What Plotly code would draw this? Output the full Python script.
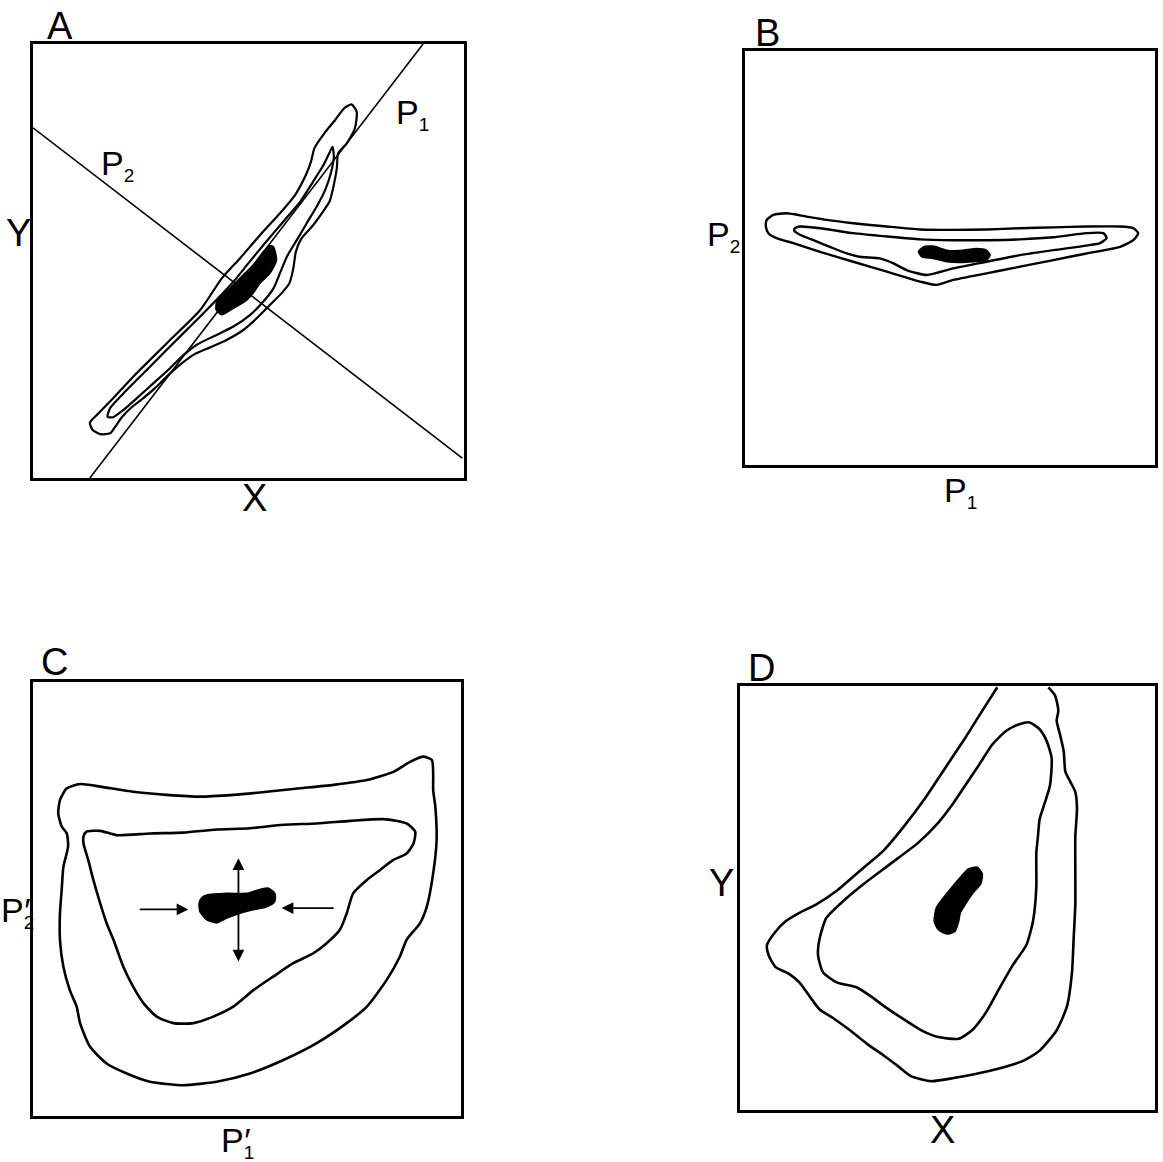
import plotly.graph_objects as go

# ---------------- Panel A: X–Y plane with principal axes P1, P2 ----------------
a_outer_x = [73.9, 75.1, 74.7, 72.8, 70.8, 70.5, 69.7, 68.8, 67.0, 64.7, 62.3, 61.0, 60.4, 59.5,
             57.7, 55.0, 51.9, 48.8, 44.9, 41.1, 37.6, 34.5, 31.4, 28.3, 25.6, 22.9, 20.6, 19.0,
             17.9, 15.6, 13.8, 13.2, 15.2, 18.6, 23.3, 31.0, 38.8, 43.8, 48.0, 52.7, 57.3, 60.8,
             63.3, 64.5, 65.3, 67.5, 70.1, 72.2, 73.9]
a_outer_y = [86.1, 84.4, 80.6, 77.1, 74.8, 71.4, 67.1, 63.7, 61.0, 57.9, 55.2, 52.2, 48.3, 44.9,
             42.6, 39.9, 36.8, 34.1, 31.8, 30.1, 28.6, 26.4, 23.7, 20.7, 18.4, 16.3, 14.0, 11.7,
             10.3, 10.1, 11.1, 12.8, 14.9, 18.4, 23.4, 31.0, 38.7, 46.0, 50.6, 56.0, 61.0, 65.2,
             69.8, 72.9, 76.0, 79.3, 82.5, 85.2, 86.1]
a_inner_x = [69.5, 69.8, 69.1, 67.8, 65.8, 63.5, 61.2, 58.9, 57.3, 55.8, 53.4, 50.4, 46.5, 41.8,
             38.0, 34.9, 31.8, 27.9, 24.1, 21.0, 18.6, 17.3, 17.9, 21.0, 26.4, 33.3, 40.3, 46.5,
             50.0, 53.8, 58.1, 62.0, 65.0, 67.4, 68.9, 69.5]
a_inner_y = [76.3, 74.0, 70.2, 66.4, 62.5, 58.7, 54.8, 51.0, 47.2, 43.7, 40.6, 37.6, 34.9, 32.6,
             30.7, 28.3, 25.3, 21.8, 18.4, 15.7, 14.0, 14.1, 16.1, 19.5, 24.9, 31.8, 38.7, 45.2,
             49.5, 54.1, 59.1, 63.7, 68.3, 72.1, 75.2, 76.3]
a_core_x = [55.8, 56.5, 55.0, 52.7, 51.1, 49.6, 46.5, 43.8, 42.5, 42.6, 44.9, 46.9, 49.2, 51.5,
            53.4, 55.0, 55.8]
a_core_y = [53.3, 50.2, 47.2, 44.9, 42.6, 41.0, 39.1, 37.6, 38.7, 40.6, 42.9, 44.9, 47.2, 49.5,
            52.1, 53.5, 53.3]
p1_axis_x = [13.2, 90.5]
p1_axis_y = [0.0, 100.0]
p2_axis_x = [0.0, 99.6]
p2_axis_y = [80.7, 4.6]

# ---------------- Panel B: the same cloud in P1–P2 coordinates ----------------
b_outer_x = [5.3, 6.9, 10.2, 15.0, 19.9, 26.4, 34.6, 42.7, 50.8, 58.9, 67.1, 75.2, 83.3, 91.5,
             94.7, 95.9, 94.7, 91.5, 83.3, 75.2, 67.1, 58.9, 50.8, 46.7, 42.7, 38.6, 34.6, 26.4,
             18.3, 11.8, 7.7, 5.7, 5.1, 5.3]
b_outer_y = [59.2, 60.4, 60.8, 60.0, 59.2, 58.4, 57.6, 56.9, 56.8, 56.9, 57.2, 57.4, 57.6, 57.6,
             57.2, 56.0, 54.3, 52.7, 51.1, 49.5, 47.9, 46.3, 44.7, 43.5, 44.3, 45.5, 46.7, 49.1,
             51.5, 53.6, 54.8, 56.0, 57.6, 59.2]
b_inner_x = [12.2, 13.4, 18.3, 26.4, 34.6, 42.7, 50.8, 58.9, 67.1, 75.2, 83.3, 87.4, 88.2, 86.6,
             83.3, 75.2, 67.1, 58.9, 50.8, 44.3, 39.4, 36.2, 32.9, 28.0, 24.8, 20.7, 16.7, 13.4,
             12.0, 12.2]
b_inner_y = [57.2, 57.6, 57.2, 56.0, 55.2, 54.5, 54.3, 54.3, 54.5, 55.0, 56.0, 56.0, 54.8, 53.6,
             53.0, 51.9, 50.7, 49.1, 47.5, 45.9, 47.1, 48.7, 49.9, 50.3, 51.1, 52.7, 54.3, 55.6,
             56.6, 57.2]
b_core_x = [43.5, 45.9, 49.2, 52.4, 56.5, 58.9, 59.8, 58.9, 55.7, 52.4, 49.2, 45.9, 43.1, 42.3, 43.5]
b_core_y = [52.7, 52.9, 51.9, 51.8, 52.3, 51.9, 50.7, 49.5, 49.1, 48.9, 49.1, 49.9, 50.3, 51.5, 52.7]

# ---------------- Panel C: rescaled P1'–P2' plane ----------------
c_outer_x = [7.9, 11.0, 15.7, 23.4, 31.2, 39.0, 46.8, 54.6, 62.4, 70.2, 78.0, 84.2, 88.1, 91.2,
             93.2, 93.5, 93.5, 94.0, 94.3, 93.5, 92.0, 90.4, 87.3, 85.7, 82.6, 78.0, 73.3, 66.3,
             58.5, 50.7, 42.9, 35.1, 27.3, 21.9, 17.2, 13.3, 11.0, 10.2, 8.6, 7.1, 6.3, 6.3, 6.7,
             7.1, 8.2, 7.9, 6.7, 5.9, 6.3, 7.9]
c_outer_y = [75.5, 76.5, 75.9, 74.7, 74.0, 73.6, 74.0, 74.7, 75.5, 76.3, 77.4, 79.3, 81.6, 82.8,
             82.0, 78.9, 75.1, 71.3, 63.6, 55.9, 48.2, 44.4, 40.6, 36.7, 31.3, 25.2, 21.4, 16.8,
             12.9, 9.8, 7.9, 7.1, 7.9, 9.8, 12.1, 16.0, 21.4, 25.2, 29.0, 34.4, 40.6, 46.7, 52.1,
             57.4, 62.1, 65.1, 66.7, 69.7, 72.8, 75.5]
c_inner_x = [11.8, 12.5, 15.7, 19.6, 27.3, 35.1, 42.9, 50.7, 58.5, 66.3, 74.1, 81.9, 87.3, 89.3,
             88.9, 87.3, 84.2, 81.1, 78.0, 74.8, 73.3, 71.7, 68.6, 65.5, 60.8, 56.1, 51.5, 46.8,
             42.1, 37.5, 32.8, 28.9, 25.8, 23.4, 21.1, 18.8, 17.2, 15.7, 14.1, 12.9, 11.8, 11.8]
c_inner_y = [64.4, 65.5, 65.7, 64.7, 65.1, 65.3, 66.0, 66.3, 67.1, 67.4, 68.0, 68.4, 67.4, 65.5,
             62.8, 60.5, 59.0, 56.7, 54.4, 51.3, 46.7, 42.9, 39.8, 37.5, 35.2, 32.1, 29.0, 25.2,
             22.9, 21.4, 21.4, 22.9, 26.0, 29.8, 34.4, 40.6, 44.4, 49.0, 54.4, 59.0, 62.8, 64.4]
c_core_x = [40.6, 45.3, 49.9, 53.0, 55.0, 56.5, 56.5, 54.6, 51.5, 48.4, 45.3, 42.9, 40.6, 39.0,
            38.8, 39.4, 40.6]
c_core_y = [50.9, 51.3, 51.3, 52.2, 52.5, 51.3, 49.4, 48.2, 47.5, 46.7, 45.6, 44.5, 45.2, 47.1,
            49.0, 50.3, 50.9]
# arrows: (tail x, tail y, head x, head y)
c_arrows = [
    (24.6, 47.6, 36.3, 47.6),   # squeeze from the left
    (70.6, 47.9, 58.1, 47.9),   # squeeze from the right
    (48.0, 47.5, 48.0, 59.4),   # stretch upward
    (48.0, 47.5, 48.0, 35.6),   # stretch downward
]

# ---------------- Panel D: back-transformed into X–Y ----------------
d_outer_x = [74.3, 75.9, 76.7, 76.3, 77.1, 78.0, 78.4, 79.6, 80.8, 81.2, 80.8, 80.8, 80.8, 80.4,
             80.0, 78.8, 76.3, 72.2, 68.2, 60.0, 51.8, 46.1, 41.2, 38.0, 34.7, 30.6, 26.5, 22.4,
             19.2, 16.7, 14.3, 11.8, 8.6, 6.9, 6.5, 8.6, 11.0, 14.3, 18.4, 23.3, 29.0, 34.7, 39.6,
             44.5, 49.4, 54.3, 58.4, 62.0]
d_outer_y = [99.7, 97.8, 94.2, 91.8, 88.6, 84.6, 79.8, 77.4, 75.0, 71.0, 64.6, 56.5, 48.5, 40.5,
             32.5, 24.5, 18.8, 14.0, 11.6, 9.2, 7.6, 6.8, 8.0, 10.4, 12.8, 15.6, 18.8, 21.7, 23.7,
             26.9, 30.1, 32.1, 33.7, 36.5, 38.9, 42.1, 44.5, 46.5, 48.5, 51.7, 56.5, 61.3, 67.0,
             73.4, 80.6, 87.8, 94.2, 99.7]
d_inner_x = [69.8, 67.3, 64.1, 60.8, 57.6, 54.3, 51.0, 47.8, 42.9, 36.3, 29.8, 24.9, 20.8, 19.2,
             18.8, 20.0, 23.3, 28.2, 31.4, 34.7, 39.6, 43.7, 47.8, 52.7, 55.9, 59.2, 62.4, 65.7,
             69.0, 70.6, 71.4, 71.4, 71.8, 72.2, 73.5, 74.7, 75.1, 73.9, 72.2, 69.8]
d_inner_y = [91.4, 91.0, 89.4, 86.2, 81.4, 76.6, 71.8, 67.8, 63.0, 58.1, 53.3, 49.3, 45.3, 40.5,
             36.5, 32.5, 30.1, 28.9, 26.9, 24.5, 21.3, 18.8, 17.2, 16.8, 18.8, 22.9, 28.5, 34.1,
             38.9, 44.5, 52.5, 60.5, 64.6, 68.6, 72.6, 76.6, 83.0, 87.0, 89.8, 91.4]
d_core_x = [57.1, 58.4, 58.0, 55.9, 54.3, 53.1, 52.7, 51.8, 49.8, 47.8, 46.8, 47.3, 49.0, 51.0,
            53.1, 55.1, 57.1]
d_core_y = [57.3, 55.7, 53.3, 50.9, 48.5, 46.5, 44.5, 42.1, 41.5, 42.5, 44.5, 47.7, 50.1, 52.5,
            54.9, 56.9, 57.3]

INK = "#000000"
FONT = "Liberation Sans"
W, H = 1163, 1162


def sub(t, tuck=False):
    # tuck pulls the following prime back so it sits above the subscript
    extra = "; letter-spacing:-10px" if tuck else ""
    return "<sub><span style='font-size:19px" + extra + "'>" + t + "</span></sub>"


# panel letters and axis titles
panel_letters = ["A", "B", "C", "D"]
x_titles = ["X", "P" + sub("1"), "P" + sub("1", True) + "′", "X"]
y_titles = ["Y", "P" + sub("2"), "P" + sub("2", True) + "′", "Y"]

# panel frames in page pixels: left, right, top, bottom
frames = [(33, 464, 44, 478), (745, 1155, 51, 465), (33, 461, 682, 1116), (740, 1155, 686, 1110)]

fig = go.Figure()
layout_axes = {}
for i, (l, r, t, b) in enumerate(frames, start=1):
    sfx = "" if i == 1 else str(i)
    ax_common = dict(range=[0, 100], showgrid=False, zeroline=False, showticklabels=False,
                     ticks="", showline=True, linecolor=INK, linewidth=2.8, mirror=True,
                     fixedrange=True)
    layout_axes["xaxis" + sfx] = dict(domain=[l / W, r / W], anchor="y" + sfx, **ax_common)
    layout_axes["yaxis" + sfx] = dict(domain=[1 - b / H, 1 - t / H], anchor="x" + sfx, **ax_common)


def contour(x, y, panel, width=2.4):
    sfx = "" if panel == 1 else str(panel)
    fig.add_trace(go.Scatter(x=x, y=y, mode="lines", xaxis="x" + sfx, yaxis="y" + sfx,
                             line=dict(color=INK, width=width, shape="spline", smoothing=0.6),
                             hoverinfo="skip", showlegend=False))


def core(x, y, panel):
    sfx = "" if panel == 1 else str(panel)
    fig.add_trace(go.Scatter(x=x, y=y, mode="lines", xaxis="x" + sfx, yaxis="y" + sfx,
                             fill="toself", fillcolor=INK,
                             line=dict(color=INK, width=1.5, shape="spline", smoothing=0.6),
                             hoverinfo="skip", showlegend=False))


def straight(x, y, panel, width=1.6):
    sfx = "" if panel == 1 else str(panel)
    fig.add_trace(go.Scatter(x=x, y=y, mode="lines", xaxis="x" + sfx, yaxis="y" + sfx,
                             line=dict(color=INK, width=width), hoverinfo="skip",
                             showlegend=False, cliponaxis=True))


# Panel A
straight(p1_axis_x, p1_axis_y, 1)
straight(p2_axis_x, p2_axis_y, 1)
contour(a_outer_x, a_outer_y, 1, width=2.2)
contour(a_inner_x, a_inner_y, 1, width=2.2)
core(a_core_x, a_core_y, 1)
# Panel B
contour(b_outer_x, b_outer_y, 2)
contour(b_inner_x, b_inner_y, 2)
core(b_core_x, b_core_y, 2)
# Panel C
contour(c_outer_x, c_outer_y, 3, width=2.6)
contour(c_inner_x, c_inner_y, 3, width=2.6)
core(c_core_x, c_core_y, 3)
# Panel D
contour(d_outer_x, d_outer_y, 4, width=2.6)
contour(d_inner_x, d_inner_y, 4, width=2.6)
core(d_core_x, d_core_y, 4)

annotations = []
for tx, ty, hx, hy in c_arrows:
    annotations.append(dict(x=hx, y=hy, ax=tx, ay=ty, xref="x3", yref="y3", axref="x3",
                            ayref="y3", text="", showarrow=True, arrowhead=2, arrowsize=1.3,
                            arrowwidth=1.8, arrowcolor=INK, standoff=0, startstandoff=0))


def label(text, panel, xd, yd, size=38):
    sfx = "" if panel == 1 else str(panel)
    annotations.append(dict(text=text, x=xd, y=yd, xref="x" + sfx + " domain",
                            yref="y" + sfx + " domain", showarrow=False,
                            xanchor="center", yanchor="middle",
                            font=dict(family=FONT, size=size, color=INK)))


letter_pos = [(0.063, 1.041), (0.054, 1.043), (0.051, 1.045), (0.053, 1.042)]
xt_pos = [(0.515, -0.046), (0.525, -0.066), (0.478, -0.060), (0.487, -0.048)]
yt_pos = [(-0.034, 0.565), (-0.053, 0.552), (-0.036, 0.470), (-0.045, 0.535)]
for k in range(4):
    label(panel_letters[k], k + 1, *letter_pos[k])
    label(x_titles[k], k + 1, *xt_pos[k], size=38 if k in (0, 3) else 34)
    label(y_titles[k], k + 1, *yt_pos[k], size=38 if k in (0, 3) else 34)

# axis labels inside panel A
label("P" + sub("1"), 1, 0.880, 0.838, size=34)
label("P" + sub("2"), 1, 0.197, 0.722, size=34)

fig.update_layout(width=W, height=H, margin=dict(l=0, r=0, t=0, b=0),
                  paper_bgcolor="white", plot_bgcolor="white",
                  annotations=annotations, **layout_axes)

fig.write_html("out.html")
